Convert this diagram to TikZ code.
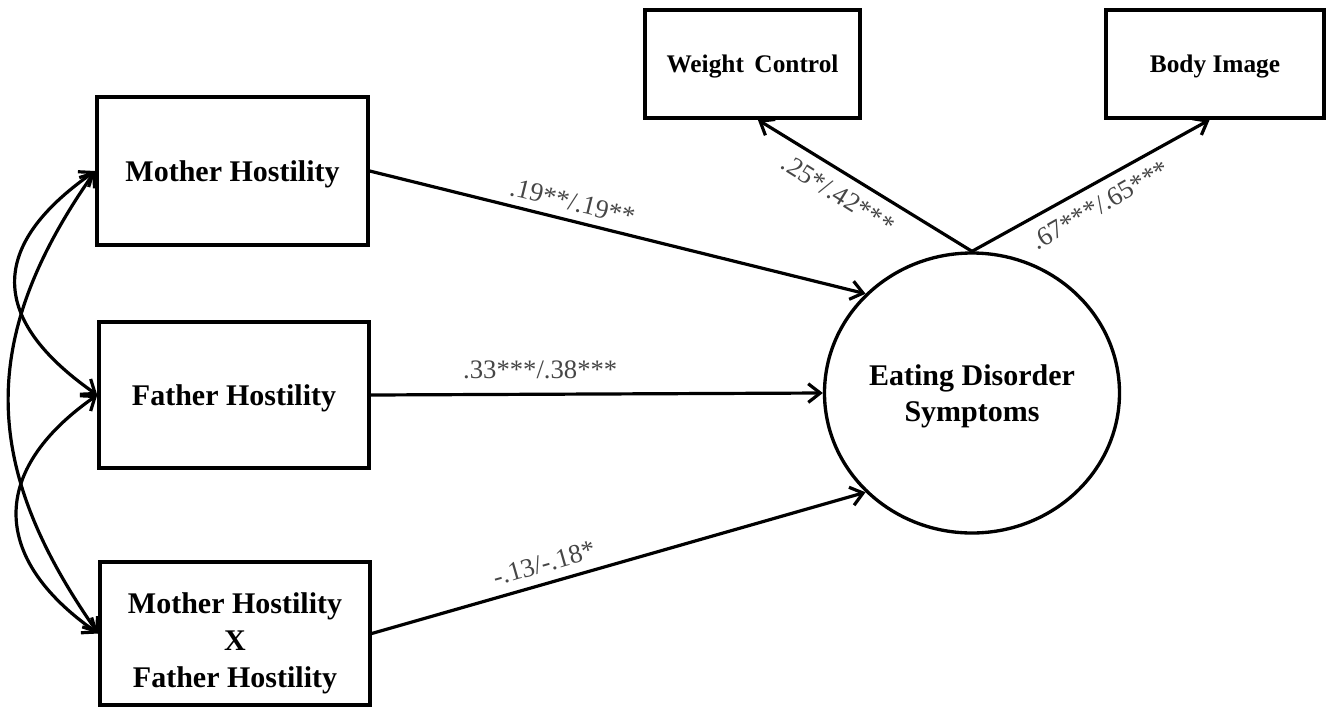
\documentclass[tikz,border=0pt]{standalone}
\usepackage{fontspec}
\setmainfont{Liberation Serif}
\usetikzlibrary{arrows.meta,shapes.geometric}
\definecolor{labgray}{RGB}{70,70,70}
\begin{document}
\begin{tikzpicture}[x=0.75pt,y=-0.75pt,
  box/.style={draw, line width=2.6pt, inner sep=0pt, align=center, text depth=0pt,
    font=\bfseries\fontsize{22.5}{27.5}\selectfont},
  smallbox/.style={box, font=\bfseries\fontsize{19}{23}\selectfont},
  latent/.style={draw, ellipse, line width=2.5pt, inner sep=0pt, align=center, text depth=0pt,
    font=\bfseries\fontsize{22.5}{27}\selectfont},
  arr/.style={line width=2.4pt, -{Straight Barb[length=9pt,width=14pt]}},
  cov/.style={line width=2.4pt, {Straight Barb[length=9pt,width=14pt]}-{Straight Barb[length=9pt,width=14pt]}},
  elab/.style={text=labgray, font=\fontsize{20}{24}\selectfont, inner sep=2pt}]
\useasboundingbox[fill=white] (0,0) rectangle (1329,708);

% observed predictors
\node[box, minimum width=203.25pt, minimum height=111pt] (mh) at (232.5,171) {Mother Hostility};
\node[box, minimum width=202.5pt, minimum height=109.5pt] (fh) at (234,395) {Father Hostility};
\node[box, minimum width=202.5pt, minimum height=107.25pt] (mxf) at (235,633.5) {};
\node[font=\bfseries\fontsize{22.5}{27.75}\selectfont, align=center, inner sep=0pt] (mxft) at (235,643) {Mother Hostility\\X\\Father Hostility};

% latent and indicators
\node[latent, minimum width=221.25pt, minimum height=210pt] (ed) at (972,393) {Eating Disorder\\Symptoms};
\node[smallbox, minimum width=161.25pt, minimum height=81pt] (wc) at (752.5,64) {Weight\ \,Control};
\node[smallbox, minimum width=163.5pt, minimum height=81pt] (bi) at (1215,64) {Body Image};

% paths
\draw[arr] (mh.east) -- node[elab, sloped, above=4pt, pos=0.40] (l1) {.19**/.19**} (ed.137.7);
\draw[arr] (fh.east) -- node[elab, above=8pt, pos=0.375] (l2) {.33***/.38***} (ed.west);
\draw[arr] (mxf.east) -- node[elab, sloped, above=5pt, pos=0.36] (l3) {-.13/-.18*} (ed.223.1);

\draw[arr] (ed.north) -- ([xshift=4pt]wc.south);
\draw[arr] (ed.north) -- ([xshift=-4pt]bi.south);
\node[elab, rotate=-32] (l4) at (838,194) {.25*/.42***};
\node[elab, rotate=29.6] (l5) at (1100,205) {.67***/.65***};

% covariances
\draw[cov] (mh.west) to[out=215, in=145, looseness=1.5] (fh.west);
\draw[cov] (fh.west) to[out=215, in=145, looseness=1.41] (mxf.west);
\draw[cov] (mh.west) to[out=235, in=125, looseness=1.13] (mxf.west);
\end{tikzpicture}
\end{document}
